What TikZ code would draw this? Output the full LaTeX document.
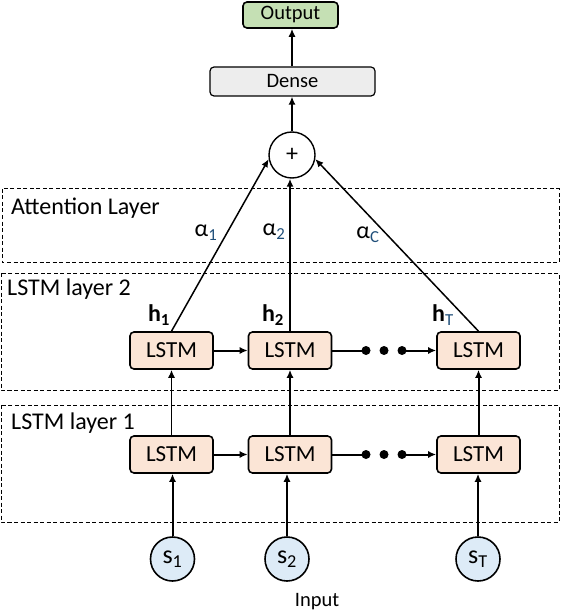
\documentclass[tikz,border=0pt]{standalone}
\usepackage{fontspec}
\setmainfont{Carlito}
\usetikzlibrary{arrows.meta}
\definecolor{lstmfill}{HTML}{FBE5D6}
\definecolor{infill}{HTML}{DDEBF7}
\definecolor{outfill}{HTML}{C5E0B4}
\definecolor{densefill}{HTML}{EDEDED}
\definecolor{subblue}{HTML}{1F4E79}
\tikzset{
  lstm/.style={draw, line width=1.6pt, rounded corners=4pt, fill=lstmfill, minimum width=83pt, minimum height=37pt, inner sep=0pt, font=\fontsize{23}{25}\selectfont},
  inp/.style={draw, circle, line width=1.6pt, fill=infill, minimum size=44pt, inner sep=0pt, font=\fontsize{26}{28}\selectfont},
  layerbox/.style={draw, line width=1pt, dash pattern=on 4pt off 2.5pt},
  layerlabel/.style={anchor=west, inner sep=0pt, font=\fontsize{24}{26}\selectfont},
  arr/.style={line width=2pt, -{Latex[length=8pt,width=7pt]}},
  tarr/.style={line width=1.5pt, -{Latex[length=8pt,width=7pt]}},
  dot/.style={circle, fill=black, minimum size=9pt, inner sep=0pt},
  lbl/.style={inner sep=0pt, font=\fontsize{24}{26}\selectfont},
}
\begin{document}
\begin{tikzpicture}[x=1pt,y=-1pt]
\useasboundingbox (0,0) rectangle (560,612);
% layer boxes
\draw[layerbox] (2,189) rectangle (559,262);
\node[layerlabel] (attl) at (11,208) {Attention Layer};
\draw[layerbox] (1,273) rectangle (559,390);
\node[layerlabel] (l2l) at (7,289) {LSTM layer 2};
\draw[layerbox] (1,405) rectangle (559,522);
\node[layerlabel] (l1l) at (11,423) {LSTM layer 1};
% top
\node[draw, line width=1.6pt, rounded corners=4pt, fill=outfill, minimum width=95pt, minimum height=26pt, inner sep=0pt, font=\fontsize{20.5}{22}\selectfont] (out) at (290.5,15) {Output};
\node[draw, line width=1.2pt, rounded corners=4pt, fill=densefill, minimum width=165pt, minimum height=29pt, inner sep=0pt, font=\fontsize{20.5}{22}\selectfont] (dense) at (292.5,81.5) {Dense};
\node[draw, circle, line width=1.4pt, fill=white, minimum size=46pt, inner sep=0pt, font=\fontsize{24}{26}\selectfont] (plus) at (292,155) {+};
\draw[tarr] (plus.north |- dense.north) -- (plus.north |- out.south);
\draw[tarr] (plus.north) -- (plus.north |- dense.south);
% LSTM layer 2
\node[lstm] (a1) at (171.5,350.5) {LSTM};
\node[lstm] (a2) at (290,350.5) {LSTM};
\node[lstm] (a3) at (478.5,350.5) {LSTM};
% LSTM layer 1
\node[lstm] (b1) at (171.5,454.5) {LSTM};
\node[lstm] (b2) at (290,454.5) {LSTM};
\node[lstm] (b3) at (478.5,454.5) {LSTM};
% inputs
\node[inp] (s1) at (172.5,559) {s\textsubscript{1}};
\node[inp] (s2) at (287,559) {s\textsubscript{2}};
\node[inp] (s3) at (478,559) {s\textsubscript{T}};
\node[inner sep=0pt, font=\fontsize{20.5}{22}\selectfont] (input) at (317,602) {Input};
% dots
\node[dot] (d1a) at (366,350.5) {};
\node[dot] (d2a) at (384,350.5) {};
\node[dot] (d3a) at (402,350.5) {};
\node[dot] (d1b) at (366,454.5) {};
\node[dot] (d2b) at (384,454.5) {};
\node[dot] (d3b) at (402,454.5) {};
% horizontal connections
\draw[arr] (a1.east) -- (a2.west);
\draw[line width=2pt] (a2.east) -- (d1a.center);
\draw[arr] (d3a.center) -- (a3.west);
\draw[arr] (b1.east) -- (b2.west);
\draw[line width=2pt] (b2.east) -- (d1b.center);
\draw[arr] (d3b.center) -- (b3.west);
% vertical connections
\draw[arr] (s1.north) -- (b1.south -| s1.north);
\draw[tarr] (s2.north) -- (b2.south -| s2.north);
\draw[arr] (s3.north) -- (b3.south -| s3.north);
\draw[tarr] (b1.north) -- (a1.south);
\draw[arr] (b2.north) -- (a2.south);
\draw[arr] (b3.north) -- (a3.south);
% attention connections
\draw[tarr] (a1.north) -- (plus.190);
\draw[arr] (a2.north) -- (a2.north |- plus.south);
\draw[tarr] (a3.north) -- (plus.-10);
% labels
\node[lbl] (al1) at (206,233) {α\textsubscript{\textcolor{subblue}{1}}};
\node[lbl] (al2) at (274,232) {α\textsubscript{\textcolor{subblue}{2}}};
\node[lbl] (al3) at (368,235) {α\textsubscript{\textcolor{subblue}{C}}};
\node[lbl] (h1) at (159,315) {\textbf{h\textsubscript{1}}};
\node[lbl] (h2) at (273,315) {\textbf{h\textsubscript{2}}};
\node[lbl] (h3) at (443,315) {\textbf{h}\textsubscript{\textcolor{subblue}{T}}};
\end{tikzpicture}
\end{document}
